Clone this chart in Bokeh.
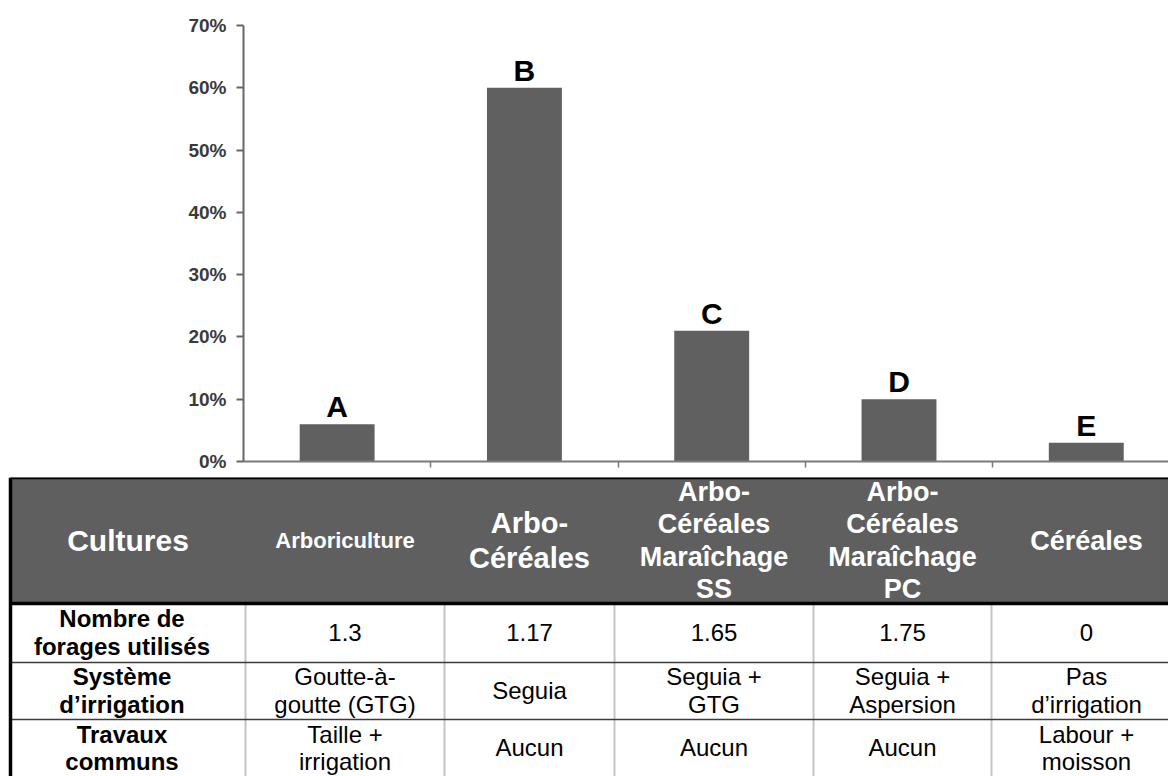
from bokeh.plotting import figure
from bokeh.layouts import column
from bokeh.models import Range1d, FixedTicker, NumeralTickFormatter, ColumnDataSource
from bokeh.core.properties import value
from bokeh.embed import file_html
from bokeh.resources import INLINE

# ---------------- data ----------------
groups = ["A", "B", "C", "D", "E"]
shares = [0.06, 0.60, 0.21, 0.10, 0.03]
y_ticks = [0, 0.1, 0.2, 0.3, 0.4, 0.5, 0.6, 0.7]
group_edges = [1, 2, 3, 4]

header_labels = ["Cultures", "Arboriculture", "Arbo-\nCéréales",
                 "Arbo-\nCéréales\nMaraîchage\nSS",
                 "Arbo-\nCéréales\nMaraîchage\nPC", "Céréales"]
row_labels = ["Nombre de\nforages utilisés", "Système\nd’irrigation", "Travaux\ncommuns"]
forages = ["1.3", "1.17", "1.65", "1.75", "0"]
irrigation = ["Goutte-à-\ngoutte (GTG)", "Seguia", "Seguia +\nGTG",
              "Seguia +\nAspersion", "Pas\nd’irrigation"]
travaux = ["Taille +\nirrigation", "Aucun", "Aucun", "Aucun", "Labour +\nmoisson"]

# ---------------- layout ----------------
FONT = "Liberation Sans"
W = 1168
H_CHART = 477
H_TABLE = 299
BAR_COLOR = "#606060"
header_sizes = ["30px", "22px", "29px", "27px", "27px", "27px"]
header_lh = [1.1, 1.1, 1.1, 1.07, 1.07, 1.1]

# ---------------- bar chart ----------------
x_pos = [i + 0.5 for i in range(len(groups))]
src = ColumnDataSource(dict(x=x_pos, top=shares, label=groups))

p = figure(width=W, height=H_CHART, x_range=Range1d(0, 4.939), y_range=Range1d(0, 0.70),
           output_backend="svg", toolbar_location=None,
           min_border_left=243, min_border_right=0, min_border_top=25, min_border_bottom=16)
p.frame_align = False
p.vbar(x="x", top="top", width=0.4, source=src, fill_color=BAR_COLOR, line_color=None)
p.text(x="x", y="top", text="label", source=src, text_align="center",
       text_baseline="bottom", y_offset=-1, text_font=value(FONT),
       text_font_style="bold", text_font_size="30px", text_color="black")

p.xgrid.visible = False
p.ygrid.visible = False
p.outline_line_color = None
p.background_fill_color = "white"

xa = p.xaxis[0]
xa.ticker = FixedTicker(ticks=group_edges)
xa.major_label_overrides = {e: "" for e in group_edges}
xa.major_label_standoff = 0
xa.major_tick_in = 0
xa.major_tick_out = 6
xa.minor_tick_line_color = None
xa.axis_line_color = "#7a7a7a"
xa.axis_line_width = 2
xa.major_tick_line_color = "#7a7a7a"
xa.major_tick_line_width = 1.5

ya = p.yaxis[0]
ya.ticker = FixedTicker(ticks=y_ticks)
ya.formatter = NumeralTickFormatter(format="0%")
ya.major_label_text_font = FONT
ya.major_label_text_font_style = "bold"
ya.major_label_text_font_size = "19px"
ya.major_label_text_color = "#3a3a3a"
ya.major_label_standoff = 10
ya.major_tick_in = 0
ya.major_tick_out = 7
ya.minor_tick_line_color = None
ya.axis_line_color = "#666666"
ya.axis_line_width = 2
ya.major_tick_line_color = "#666666"
ya.major_tick_line_width = 2

# ---------------- table ----------------
col_edges = [10, 245, 444, 614, 813, 991, 1181]
row_edges = [477, 603, 662, 719, 779]
row_text_y = [540, 632, 690, 747]
left, right = col_edges[0], col_edges[-1]
centers = [(a + b) / 2 for a, b in zip(col_edges[:-1], col_edges[1:])]

t = figure(width=W, height=H_TABLE, x_range=Range1d(0, W), y_range=Range1d(776, 477),
           output_backend="svg", toolbar_location=None, x_axis_type=None, y_axis_type=None,
           min_border=0, min_border_left=0, min_border_right=0, min_border_top=0, min_border_bottom=0)
t.frame_align = False
t.grid.visible = False
t.outline_line_color = None

# header background
t.quad(left=[left], right=[right], top=[row_edges[0]], bottom=[row_edges[1]],
       fill_color="#5f5f5f", line_color=None)
# body vertical separators
inner = col_edges[1:-1]
t.segment(x0=inner, x1=inner, y0=[row_edges[1]] * len(inner), y1=[row_edges[-1]] * len(inner),
          line_color="#c4c4c4", line_width=2)
# body row separators
t.segment(x0=[left, left], x1=[right, right], y0=row_edges[2:4], y1=row_edges[2:4],
          line_color="#3c3c3c", line_width=1.5)
# thick borders
t.segment(x0=[left, left], x1=[right, right], y0=row_edges[0:2], y1=row_edges[0:2],
          line_color="black", line_width=3.5)
t.segment(x0=[left], x1=[left], y0=[row_edges[0]], y1=[row_edges[-1]],
          line_color="black", line_width=3.5)

# header texts
for cx, lab, sz, lh in zip(centers, header_labels, header_sizes, header_lh):
    t.text(x=[cx], y=[row_text_y[0]], text=[lab], text_align="center", text_baseline="middle",
           text_font=value(FONT), text_font_style="bold", text_font_size=sz,
           text_color="white", text_line_height=lh)

# row labels (first column)
for lab, ym in zip(row_labels, row_text_y[1:]):
    t.text(x=[centers[0] - 6], y=[ym], text=[lab], text_align="center",
           text_baseline="middle", text_font=value(FONT), text_font_style="bold",
           text_font_size="24px", text_color="black",
           text_line_height=1.0 if ym == row_text_y[-1] else 1.03)

# body cells
for vals, ym in zip([forages, irrigation, travaux], row_text_y[1:]):
    t.text(x=centers[1:], y=[ym] * len(vals), text=vals, text_align="center",
           text_baseline="middle", text_font=value(FONT), text_font_style="normal",
           text_font_size="24px", text_color="black",
           text_line_height=1.0 if ym == row_text_y[-1] else 1.03)

layout = column(p, t, spacing=0)
open("out.html", "w").write(file_html(layout, INLINE))
